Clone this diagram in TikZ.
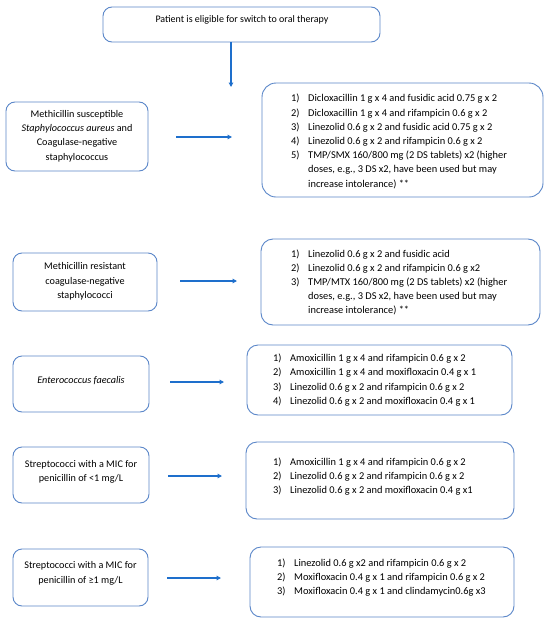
\documentclass[tikz,border=0pt]{standalone}
\usepackage{fontspec}
\setmainfont{Carlito}
\usetikzlibrary{arrows.meta}
\definecolor{boxblue}{HTML}{5B87C9}
\definecolor{arrowblue}{HTML}{1E6FCC}
\newcommand{\itm}[2]{\makebox[17pt][l]{#1}#2}
\tikzset{
  frame/.style={draw=boxblue, line width=0.9pt, rounded corners=9pt, inner sep=0pt},
  txt/.style={font=\fontsize{10.2}{14.4}\selectfont, inner sep=0pt, align=center},
  lst/.style={font=\fontsize{10.4}{14.2}\selectfont, inner sep=0pt, align=left, anchor=west},
  arr/.style={draw=arrowblue, line width=1.1pt, -{Triangle[length=4.5pt,width=4.5pt]}}
}
\begin{document}
\begin{tikzpicture}[x=1pt,y=-1pt]
\useasboundingbox[fill=white] (0,0) rectangle (550,624);

% top
\node[frame, minimum width=277pt, minimum height=35pt] (top) at (241.5,24.5) {};
\node[txt, font=\fontsize{10}{14}\selectfont] (toptxt) at (242,20) {Patient is eligible for switch to oral therapy};
\coordinate (downend) at (231,87);
\draw[arr] (231,42) coordinate (downstart) -- (downend);

% row 1
\node[frame, minimum width=142pt, minimum height=69pt] (L1) at (77,136.5) {};
\node[txt] (L1t) at (77,136) {Methicillin susceptible\\\textit{Staphylococcus aureus} and\\Coagulase-negative\\staphylococcus};
\node[frame, rounded corners=14pt, minimum width=281pt, minimum height=114pt] (R1) at (402.5,140) {};
\node[lst] (R1t) at (291,141.5) {\itm{1)}{Dicloxacillin 1 g x 4 and fusidic acid 0.75 g x 2}\\
\itm{2)}{Dicloxacillin 1 g x 4 and rifampicin 0.6 g x 2}\\
\itm{3)}{Linezolid 0.6 g x 2 and fusidic acid 0.75 g x 2}\\
\itm{4)}{Linezolid 0.6 g x 2 and rifampicin 0.6 g x 2}\\
\itm{5)}{TMP/SMX 160/800 mg (2 DS tablets) x2 (higher}\\
\itm{}{doses, e.g., 3 DS x2, have been used but may}\\
\itm{}{increase intolerance) **}};
\coordinate (a1s) at (176,137); \coordinate (a1e) at (232,137);
\draw[arr] (a1s) -- (a1e);

% row 2
\node[frame, minimum width=144pt, minimum height=58pt] (L2) at (85,282) {};
\node[txt] (L2t) at (85,281.5) {Methicillin resistant\\coagulase-negative\\staphylococci};
\node[frame, rounded corners=12pt, minimum width=279pt, minimum height=86pt] (R2) at (400.5,282) {};
\node[lst] (R2t) at (291,282.5) {\itm{1)}{Linezolid 0.6 g x 2 and fusidic acid}\\
\itm{2)}{Linezolid 0.6 g x 2 and rifampicin 0.6 g x2}\\
\itm{3)}{TMP/MTX 160/800 mg (2 DS tablets) x2 (higher}\\
\itm{}{doses, e.g., 3 DS x2, have been used but may}\\
\itm{}{increase intolerance) **}};
\coordinate (a2s) at (180,281); \coordinate (a2e) at (237,281);
\draw[arr] (a2s) -- (a2e);

% row 3
\node[frame, minimum width=136pt, minimum height=56pt] (L3) at (81,384) {};
\node[txt] (L3t) at (81,381) {\textit{Enterococcus faecalis}};
\node[frame, rounded corners=11pt, minimum width=265pt, minimum height=70pt] (R3) at (379.5,380) {};
\node[lst] (R3t) at (273,380) {\itm{1)}{Amoxicillin 1 g x 4 and rifampicin 0.6 g x 2}\\
\itm{2)}{Amoxicillin 1 g x 4 and moxifloxacin 0.4 g x 1}\\
\itm{3)}{Linezolid 0.6 g x 2 and rifampicin 0.6 g x 2}\\
\itm{4)}{Linezolid 0.6 g x 2 and moxifloxacin 0.4 g x 1}};
\coordinate (a3s) at (170,382); \coordinate (a3e) at (224,382);
\draw[arr] (a3s) -- (a3e);

% row 4
\node[frame, minimum width=136pt, minimum height=56pt] (L4) at (81,475) {};
\node[txt] (L4t) at (81,472) {Streptococci with a MIC for\\penicillin of <1 mg/L};
\node[frame, rounded corners=11pt, minimum width=268pt, minimum height=77pt] (R4) at (380,480.5) {};
\node[lst] (R4t) at (273,476.5) {\itm{1)}{Amoxicillin 1 g x 4 and rifampicin 0.6 g x 2}\\
\itm{2)}{Linezolid 0.6 g x 2 and rifampicin 0.6 g x 2}\\
\itm{3)}{Linezolid 0.6 g x 2 and moxifloxacin 0.4 g x1}};
\coordinate (a4s) at (168,476); \coordinate (a4e) at (222,476);
\draw[arr] (a4s) -- (a4e);

% row 5
\node[frame, minimum width=135pt, minimum height=57pt] (L5) at (80.5,577.5) {};
\node[txt] (L5t) at (80.5,573.5) {Streptococci with a MIC for\\penicillin of ≥1 mg/L};
\node[frame, rounded corners=11pt, minimum width=264pt, minimum height=70pt] (R5) at (382,582) {};
\node[lst] (R5t) at (277,577.5) {\itm{1)}{Linezolid 0.6 g x2 and rifampicin 0.6 g x 2}\\
\itm{2)}{Moxifloxacin 0.4 g x 1 and rifampicin 0.6 g x 2}\\
\itm{3)}{Moxifloxacin 0.4 g x 1 and clindamycin0.6g x3}};
\coordinate (a5s) at (167,578); \coordinate (a5e) at (221,578);
\draw[arr] (a5s) -- (a5e);
\end{tikzpicture}
\end{document}
